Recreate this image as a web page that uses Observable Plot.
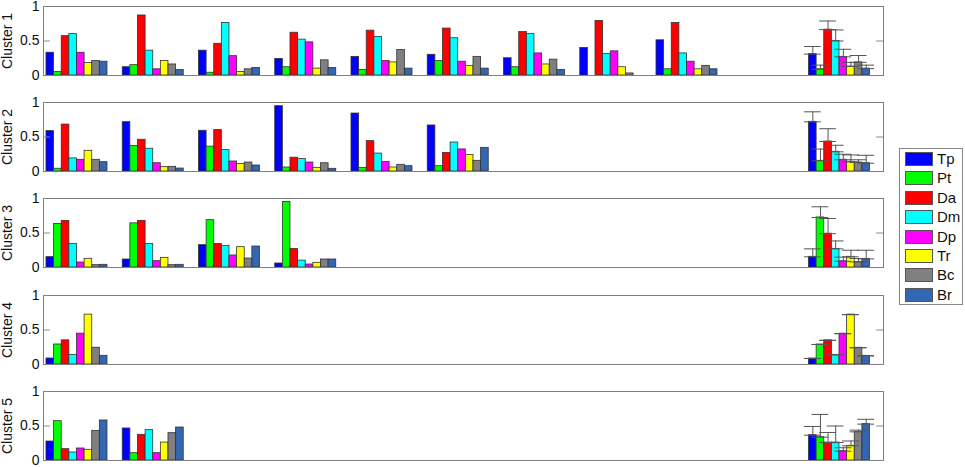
<!DOCTYPE html>
<html><head><meta charset="utf-8">
<script src="https://cdn.jsdelivr.net/npm/d3@7"></script>
<script src="https://cdn.jsdelivr.net/npm/@observablehq/plot@0.6"></script>
<style>
body{margin:0;background:#fff;font-family:"Liberation Sans",Arial,sans-serif;}
#wrap{position:relative;width:965px;height:467px;overflow:hidden;}
.panel{position:absolute;left:0;overflow:visible;}
#legend{position:absolute;left:899px;top:148px;width:64px;height:157px;border:1px solid #888;background:#fff;box-sizing:border-box;}
.item{position:absolute;left:5px;height:14px;font-size:15px;line-height:14px;color:#111;}
.sw{position:absolute;left:0;top:0;width:28px;height:14px;box-sizing:border-box;border:1px solid #555;}
.lb{position:absolute;left:32px;top:0;white-space:nowrap;}
</style>
</head><body>
<div id="wrap"><div id="legend"></div></div>
<script>
const series = ["Tp","Pt","Da","Dm","Dp","Tr","Bc","Br"];
const colors = ["#0000ff","#00ff00","#ff0000","#00ffff","#ff00ff","#ffff00","#808080","#3366b3"];
const clusterNames = ["Cluster 1","Cluster 2","Cluster 3","Cluster 4","Cluster 5"];
const yTicks = [0, 0.5, 1];
const yTickLabels = ["0", "0.5", "1"];

const cluster1 = [
  [0.33,0.05,0.57,0.60,0.33,0.18,0.21,0.20],
  [0.12,0.15,0.87,0.36,0.09,0.21,0.16,0.08],
  [0.36,0.04,0.46,0.76,0.28,0.05,0.09,0.11],
  [0.24,0.12,0.62,0.52,0.48,0.10,0.22,0.11],
  [0.27,0.08,0.65,0.56,0.21,0.19,0.37,0.10],
  [0.30,0.21,0.68,0.54,0.20,0.14,0.27,0.10],
  [0.25,0.12,0.63,0.60,0.32,0.16,0.23,0.08],
  [0.40,0.00,0.79,0.31,0.35,0.12,0.03,0.00],
  [0.51,0.09,0.76,0.32,0.20,0.09,0.14,0.09]
];
const cluster1Mean = [0.31,0.09,0.665,0.50,0.27,0.13,0.19,0.10];
const cluster1Sd   = [0.11,0.06,0.125,0.16,0.11,0.06,0.10,0.05];

const cluster2 = [
  [0.585,0.04,0.68,0.19,0.17,0.30,0.17,0.135],
  [0.715,0.37,0.46,0.33,0.12,0.063,0.068,0.043],
  [0.59,0.36,0.60,0.31,0.145,0.11,0.13,0.087],
  [0.947,0.058,0.20,0.18,0.13,0.053,0.12,0.039],
  [0.84,0.053,0.44,0.26,0.14,0.058,0.097,0.077],
  [0.667,0.077,0.27,0.42,0.32,0.24,0.155,0.343]
];
const cluster2Mean = [0.72,0.155,0.435,0.285,0.17,0.14,0.13,0.12];
const cluster2Sd   = [0.145,0.17,0.185,0.095,0.08,0.10,0.04,0.115];

const cluster3 = [
  [0.15,0.63,0.676,0.34,0.072,0.126,0.034,0.039],
  [0.116,0.64,0.676,0.34,0.092,0.14,0.034,0.039],
  [0.324,0.686,0.34,0.314,0.174,0.295,0.13,0.304],
  [0.058,0.95,0.27,0.10,0.043,0.068,0.116,0.116]
];
const cluster3Mean = [0.155,0.725,0.49,0.27,0.09,0.155,0.08,0.125];
const cluster3Sd   = [0.115,0.155,0.22,0.115,0.06,0.095,0.05,0.125];

const cluster4 = [
  [0.087,0.29,0.35,0.14,0.447,0.723,0.243,0.126]
];
const cluster4Mean = [0.087,0.29,0.35,0.14,0.447,0.723,0.243,0.126];
const cluster4Sd   = [0,0,0,0,0,0,0,0];

const cluster5 = [
  [0.275,0.57,0.164,0.116,0.174,0.155,0.43,0.58],
  [0.464,0.106,0.372,0.44,0.106,0.26,0.396,0.478]
];
const cluster5Mean = [0.367,0.338,0.26,0.26,0.135,0.213,0.415,0.527];
const cluster5Sd   = [0.126,0.33,0.146,0.24,0.05,0.07,0.025,0.07];

const meanGroup = 11;

const clusters = [
  [cluster1, cluster1Mean, cluster1Sd],
  [cluster2, cluster2Mean, cluster2Sd],
  [cluster3, cluster3Mean, cluster3Sd],
  [cluster4, cluster4Mean, cluster4Sd],
  [cluster5, cluster5Mean, cluster5Sd]
];

const panelTops = [6, 102, 198, 295, 391];
const xDomain = [0.561, 11.577];
const bw = 0.1;

function makePanel(k) {
  const [groups, means, sds] = clusters[k];
  const rows = [];
  groups.forEach((vals, g) => vals.forEach((v, i) => rows.push({g: g + 1, i, v, s: series[i]})));
  means.forEach((v, i) => rows.push({g: meanGroup, i, v, s: series[i]}));
  const err = means.map((m, i) => ({c: meanGroup - 0.4 + (i + 0.5) * bw, lo: m, hi: m + sds[i]}));
  return Plot.plot({
    width: 900, height: 85,
    marginLeft: 43, marginRight: 17, marginTop: 8, marginBottom: 8,
    style: {fontFamily: "Liberation Sans, Arial, sans-serif", background: "transparent", overflow: "visible"},
    x: {domain: xDomain, axis: null},
    y: {domain: [0, 1], axis: null},
    color: {domain: series, range: colors},
    marks: [
      Plot.rect(rows, {
        x1: d => d.g - 0.4 + d.i * bw, x2: d => d.g - 0.4 + (d.i + 1) * bw,
        y1: () => 0, y2: "v", fill: "s", stroke: "#333", strokeWidth: 0.8
      }),
      Plot.ruleX(err, {x: "c", y1: "lo", y2: "hi", stroke: "#555", strokeWidth: 1}),
      Plot.ruleY(err, {y: "lo", x1: d => d.c - 0.11, x2: d => d.c + 0.11, stroke: "#555", strokeWidth: 1}),
      Plot.ruleY(err, {y: "hi", x1: d => d.c - 0.11, x2: d => d.c + 0.11, stroke: "#555", strokeWidth: 1}),
      Plot.ruleY([0.5], {x1: xDomain[0], x2: xDomain[0] + 0.09, stroke: "#888"}),
      Plot.ruleY([0.5], {x1: xDomain[1] - 0.09, x2: xDomain[1], stroke: "#888"}),
      Plot.frame({stroke: "#808080", strokeWidth: 1}),
      Plot.axisY(yTicks, {tickSize: 0, tickPadding: 4, fontSize: 14, label: null,
        tickFormat: d => yTickLabels[yTicks.indexOf(d)], fill: "#111"}),
      Plot.text([clusterNames[k]], {frameAnchor: "left", textAnchor: "middle", lineAnchor: "middle",
        dx: -35.5, rotate: -90, text: d => d, fontSize: 14, fill: "#111"})
    ]
  });
}

const wrap = document.getElementById("wrap");
clusters.forEach((_, k) => {
  const svg = makePanel(k);
  svg.classList.add("panel");
  svg.style.position = "absolute";
  svg.style.overflow = "visible";
  svg.style.top = (panelTops[k] - 8) + "px";
  svg.style.left = "0px";
  wrap.appendChild(svg);
});

const legend = document.getElementById("legend");
series.forEach((s, i) => {
  const it = document.createElement("div");
  it.className = "item";
  it.style.top = (3 + i * 19.4) + "px";
  it.innerHTML = `<div class="sw" style="background:${colors[i]}"></div><div class="lb">${s}</div>`;
  legend.appendChild(it);
});
</script>
</body></html>
